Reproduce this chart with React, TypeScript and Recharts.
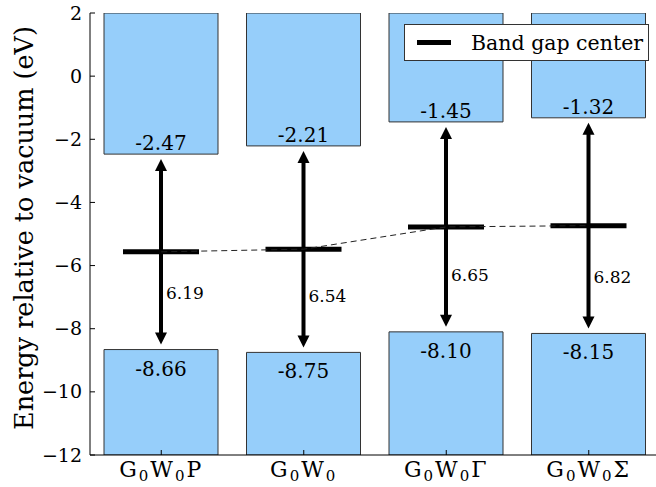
import React from "react";
import { ComposedChart, Bar, Line, XAxis, YAxis, Legend, LabelList, Label } from "recharts";

// band edges relative to vacuum (eV)
const methods = ["P", "", "Γ", "Σ"];
const cbm = [-2.47, -2.21, -1.45, -1.32];
const vbm = [-8.66, -8.75, -8.1, -8.15];
const gaps = [6.19, 6.54, 6.65, 6.82];
const yTicks = [-12, -10, -8, -6, -4, -2, 0, 2];
const yMin = -12;
const yMax = 2;

const data = methods.map((m, i) => ({
  name: m,
  cond: [cbm[i], yMax],
  val: [yMin, vbm[i]],
  gapRange: [vbm[i], cbm[i]],
  center: (cbm[i] + vbm[i]) / 2,
  gap: gaps[i],
  cbm: cbm[i],
  vbm: vbm[i],
}));

const SERIF = "'DejaVu Serif', serif";
const BAR_FILL = "#96cefa";

const fmt = (v: number) => (v < 0 ? "\u2212" + Math.abs(v) : String(v));

const LeftTick = (props: any) => {
  const { x, y, payload } = props;
  return (
    <g>
      <line x1={x} x2={x + 5} y1={y} y2={y} stroke="#000" />
      <text x={x - 8} y={y + 6.5} textAnchor="end" fontSize={19} fontFamily={SERIF} fill="#000">
        {fmt(payload.value)}
      </text>
    </g>
  );
};

const RightTick = (props: any) => {
  const { x, y } = props;
  return <line x1={x} x2={x - 5} y1={y} y2={y} stroke="#000" />;
};

const TopTick = (props: any) => {
  const { x, y } = props;
  return <line x1={x} x2={x} y1={y} y2={y + 5} stroke="#000" />;
};

const BottomTick = (props: any) => {
  const { x, y, payload } = props;
  return (
    <g>
      <line x1={x} x2={x} y1={y} y2={y - 5} stroke="#000" />
      <text x={x} y={y + 22} textAnchor="middle" fontSize={22} fontFamily={SERIF} fill="#000" letterSpacing={2}>
        G<tspan fontSize={15} dy={4}>0</tspan>
        <tspan dy={-4}>W</tspan>
        <tspan fontSize={15} dy={4}>0</tspan>
        <tspan dy={-4}>{payload.value}</tspan>
      </text>
    </g>
  );
};

const Arrow = (props: any) => {
  const { x, y, width, height, payload } = props;
  const top = Math.min(y, y + height);
  const bottom = Math.max(y, y + height);
  const cx = x + width / 2;
  const mid = (top + bottom) / 2;
  const perUnit = (bottom - top) / (payload.cbm - payload.vbm);
  const t = top + 5;
  const b = bottom - 5;
  const head = 12;
  const hw = 6;
  return (
    <g>
      <line x1={cx} x2={cx} y1={t + head - 1} y2={b - head + 1} stroke="#000" strokeWidth={4} />
      <polygon points={`${cx},${t} ${cx - hw},${t + head} ${cx + hw},${t + head}`} fill="#000" />
      <polygon points={`${cx},${b} ${cx - hw},${b - head} ${cx + hw},${b - head}`} fill="#000" />
      <line x1={cx - width / 3} x2={cx + width / 3} y1={mid} y2={mid} stroke="#000" strokeWidth={5} />
      <text x={cx + 5} y={bottom - 1.8 * perUnit + 6} fontSize={17} fontFamily={SERIF} fill="#000">
        {payload.gap.toFixed(2)}
      </text>
    </g>
  );
};

const CondLabel = (props: any) => {
  const { x, y, width, height, index } = props;
  const bottom = Math.max(y, y + height);
  return (
    <text x={x + width / 2} y={bottom - 4} textAnchor="middle" fontSize={20} fontFamily={SERIF} fill="#000">
      {cbm[index].toFixed(2)}
    </text>
  );
};

const ValLabel = (props: any) => {
  const { x, y, width, height, index } = props;
  const top = Math.min(y, y + height);
  return (
    <text x={x + width / 2} y={top + 26} textAnchor="middle" fontSize={20} fontFamily={SERIF} fill="#000">
      {vbm[index].toFixed(2)}
    </text>
  );
};

const LegendBox = () => (
  <div
    style={{
      width: 243,
      height: 35,
      border: "1px solid #333",
      background: "#fff",
      display: "flex",
      alignItems: "center",
      boxSizing: "content-box",
    }}
  >
    <div style={{ width: 34, height: 5, background: "#000", marginLeft: 12 }} />
    <span style={{ marginLeft: 20, fontSize: 20.5, fontFamily: SERIF, color: "#000", whiteSpace: "nowrap" }}>
      Band gap center
    </span>
  </div>
);

const YLabel = () => {
  const cx = 24;
  const cy = 228;
  return (
    <text x={cx} y={cy} transform={`rotate(-90, ${cx}, ${cy})`} textAnchor="middle" dominantBaseline="central" fontSize={25.5} fontFamily={SERIF} fill="#000">
      Energy relative to vacuum (eV)
    </text>
  );
};

export default function App() {
  return (
    <div style={{ position: "absolute", left: 0, top: 0, width: 656, height: 487, overflow: "hidden", background: "#fff" }}>
      <ComposedChart
        width={662}
        height={487}
        data={data}
        margin={{ top: 13, right: 2, bottom: 2, left: 0 }}
        barSize={114}
        barGap={-114}
      >
        <Bar xAxisId="b" yAxisId="l" dataKey="cond" fill={BAR_FILL} stroke="#333" strokeWidth={1} isAnimationActive={false}>
          <LabelList content={<CondLabel />} />
        </Bar>
        <Bar xAxisId="b" yAxisId="l" dataKey="val" fill={BAR_FILL} stroke="#333" strokeWidth={1} isAnimationActive={false}>
          <LabelList content={<ValLabel />} />
        </Bar>
        <Bar xAxisId="b" yAxisId="l" dataKey="gapRange" shape={<Arrow />} isAnimationActive={false} />
        <Line
          xAxisId="b"
          yAxisId="l"
          dataKey="center"
          stroke="#222"
          strokeWidth={1}
          strokeDasharray="6 4"
          dot={false}
          activeDot={false}
          isAnimationActive={false}
        />
        <XAxis xAxisId="b" dataKey="name" height={30} tickSize={0} tickMargin={0} tick={<BottomTick />} stroke="#000" interval={0} />
        <XAxis xAxisId="t" dataKey="name" orientation="top" height={0} tickSize={0} tickMargin={0} tick={<TopTick />} stroke="#000" interval={0} />
        <YAxis
          yAxisId="l"
          width={90}
          domain={[yMin, yMax]}
          ticks={yTicks}
          type="number"
          allowDataOverflow
          tickSize={0}
          tickMargin={0}
          tick={<LeftTick />}
          stroke="#000"
        >
          <Label content={<YLabel />} />
        </YAxis>
        <YAxis
          yAxisId="r"
          orientation="right"
          width={0}
          domain={[yMin, yMax]}
          ticks={yTicks}
          type="number"
          tickSize={0}
          tickMargin={0}
          tick={<RightTick />}
          stroke="#000"
        />
        <Legend
          layout="horizontal"
          verticalAlign="middle"
          align="center"
          content={<LegendBox />}
          wrapperStyle={{ top: 24, left: 404, width: 245, height: 37 }}
        />
      </ComposedChart>
    </div>
  );
}
